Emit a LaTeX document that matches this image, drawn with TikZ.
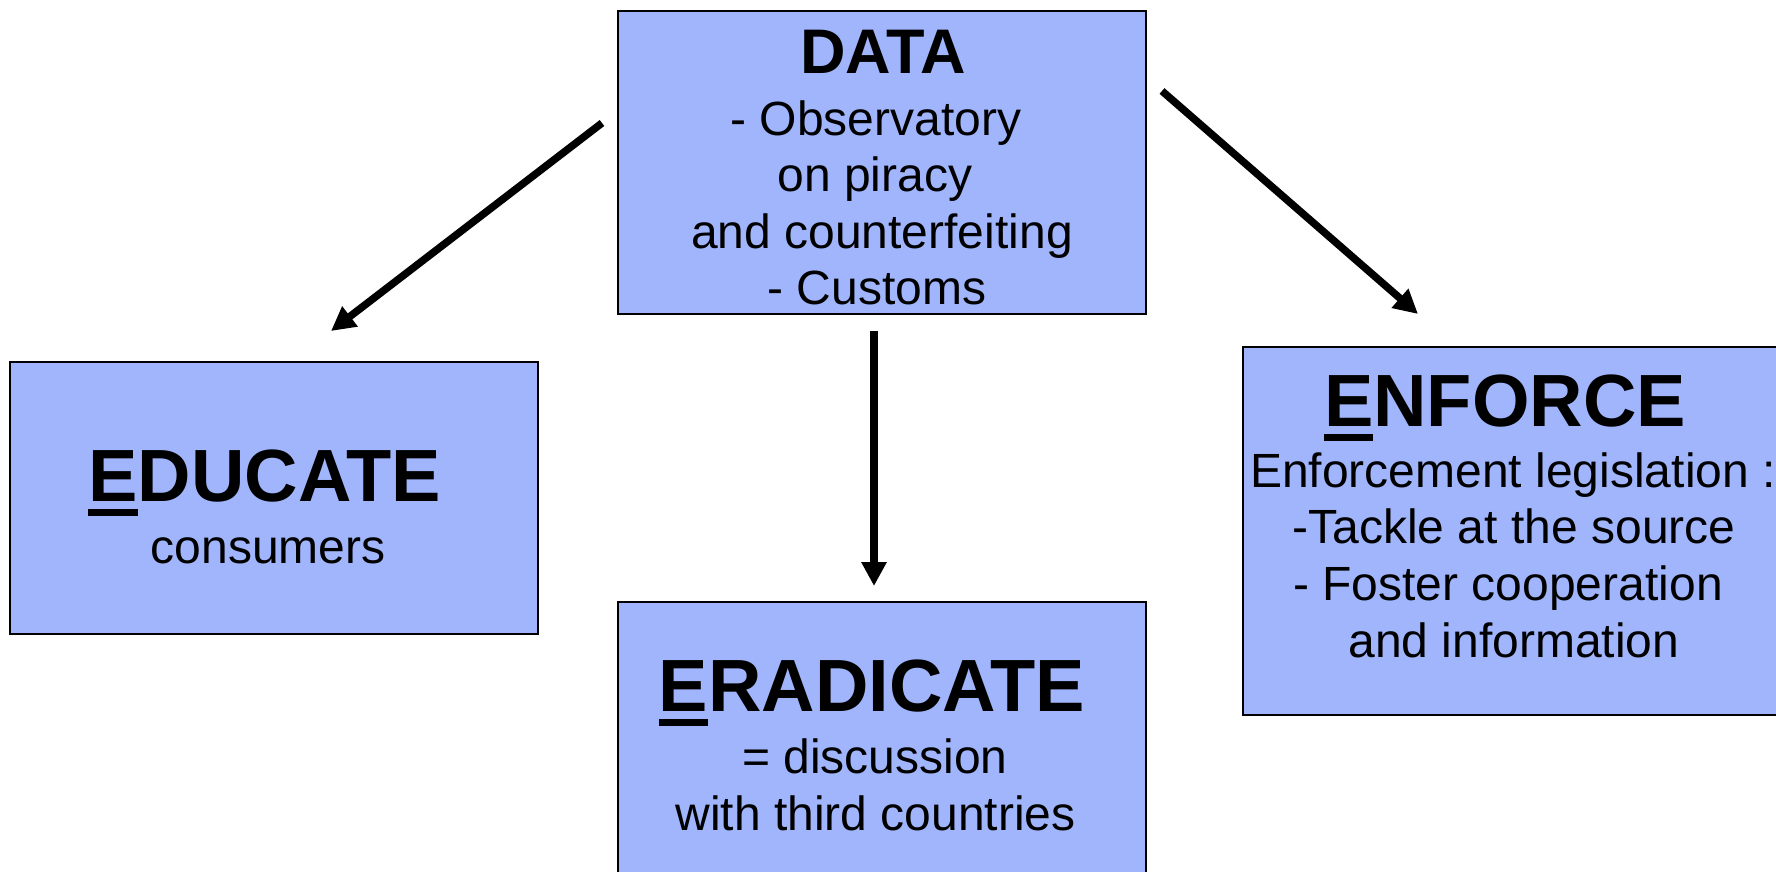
\documentclass[tikz,border=0pt]{standalone}
\usepackage{fontspec}
\setmainfont{Liberation Sans}
\usetikzlibrary{arrows.meta}
\definecolor{boxblue}{RGB}{160,181,252}
\newcommand\ufirst[1]{\setbox0\hbox{#1}\rlap{\rule[-15pt]{\wd0}{7pt}}\box0}
\begin{document}
\begin{tikzpicture}[x=1pt,y=-1pt,
  box/.style={draw=black,line width=1.5pt,fill=boxblue,inner sep=0pt,outer sep=0pt},
  body/.style={anchor=base,inner sep=0pt,font=\fontsize{48}{57}\selectfont},
  title/.style={anchor=base,inner sep=0pt,font=\fontsize{74}{80}\selectfont\bfseries},
  datatitle/.style={anchor=base,inner sep=0pt,font=\fontsize{63}{70}\selectfont\bfseries},
  arr/.style={line width=7.5pt,-{Triangle[length=24pt,width=24pt]}}]
\useasboundingbox (0,0) rectangle (1776,871);
\clip (0,0) rectangle (1776,871);
\fill[white] (0,0) rectangle (1776,871);
% boxes
\node[box,minimum width=528pt,minimum height=303pt] (data) at (882,162.5) {};
\node[box,minimum width=528pt,minimum height=272pt] (educate) at (274,498) {};
\node[box,minimum width=528pt,minimum height=300pt] (eradicate) at (882,752) {};
\node[box,minimum width=560pt,minimum height=368pt] (enforce) at (1523,531) {};
% DATA text
\node[datatitle] (t1) at (883,73) {DATA};
\node[body] (t2) at (876,135) {- Observatory};
\node[body] (t3) at (875,191.5) {on piracy};
\node[body] (t4) at (882,248) {and counterfeiting};
\node[body] (t5) at (877,304.5) {- Customs};
% EDUCATE text
\node[title] (t6) at (264.5,501) {\ufirst{E}DUCATE};
\node[body] (t7) at (268,563) {consumers};
% ERADICATE text
\node[title] (t8) at (872,711) {\ufirst{E}RADICATE};
\node[body] (t9) at (875,773) {= discussion};
\node[body] (t10) at (875.5,830) {with third countries};
% ENFORCE text
\node[title] (t11) at (1505,426) {\ufirst{E}NFORCE};
\node[body] (t12) at (1513,487) {Enforcement legislation :};
\node[body] (t13) at (1514,543.5) {-Tackle at the source};
\node[body] (t14) at (1508,600) {- Foster cooperation};
\node[body] (t15) at (1514,657) {and information};
% arrows
\coordinate (la) at (602,123);
\coordinate (lb) at (331,331);
\coordinate (ma) at (874,331);
\coordinate (mb) at (874,586);
\coordinate (ra) at (1162,91);
\coordinate (rb) at (1418,314);
\draw[arr] (la) -- (lb);
\draw[arr] (ma) -- (mb);
\draw[arr] (ra) -- (rb);
\end{tikzpicture}
\end{document}
